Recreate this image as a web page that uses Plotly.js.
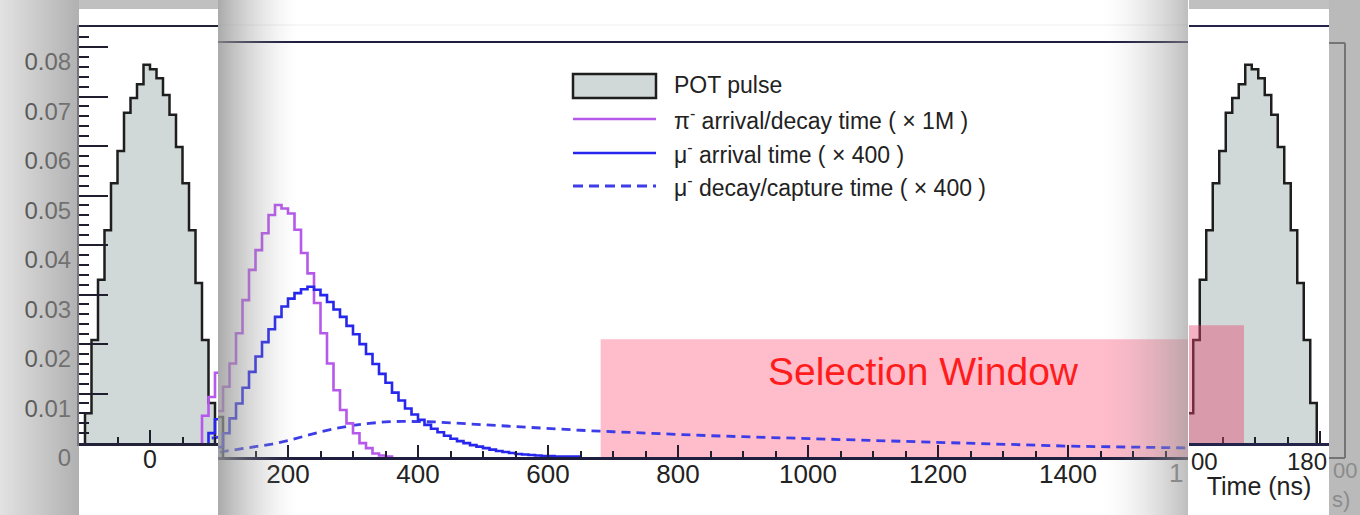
<!DOCTYPE html>
<html><head><meta charset="utf-8">
<script src="https://cdn.plot.ly/plotly-3.0.1.min.js"></script>
<style>html,body{margin:0;padding:0;background:#fff;overflow:hidden}#chart{width:1360px;height:515px}</style>
</head><body><div id="chart"></div>
<script>
// ------------------------- DATA -------------------------
// POT pulse histogram (10 ns bins, low edges in ns)
const potBinStarts = [-100,-90,-80,-70,-60,-50,-40,-30,-20,-10,0,10,20,30,40,50,60,70,80,90];
const potValues    = [0.0060,0.0208,0.0330,0.0430,0.0525,0.0590,0.0667,0.0697,0.0725,0.0764,
                      0.0755,0.0737,0.0703,0.0663,0.0598,0.0525,0.0430,0.0323,0.0208,0.0081];
const pulsePeriod  = 1695;   // ns, next POT pulse
const binWidth     = 10;     // ns

// pi- arrival/decay time (x 1M)
const piBinStarts = [80,90,100,110,120,130,140,150,160,170,180,190,200,210,220,230,240,250,260,270,280,290,300,310,320,330,340,350];
const piValues    = [0.0055,0.0093,0.0142,0.0189,0.0250,0.0317,0.0378,0.0418,0.0452,0.0489,0.0509,0.0502,0.0492,0.0459,
                     0.0412,0.0371,0.0311,0.0250,0.0189,0.0135,0.0095,0.0068,0.0048,0.0028,0.0018,0.0007,0.0003,0.0001];

// mu- arrival time (x 400)
const muArrBinStarts = [90,100,110,120,130,140,150,160,170,180,190,200,210,220,230,240,250,260,270,280,290,300,310,320,330,340,350,360,370,380,
                        390,400,410,420,430,440,450,460,470,480,490,500,510,520,530,540,550,560,570,580,590,600,610,620,630,640];
const muArrValues    = [0.0020,0.0048,0.0078,0.0108,0.0140,0.0172,0.0203,0.0232,0.0258,0.0283,0.0304,0.0320,0.0331,0.0339,0.0344,
                        0.0338,0.0327,0.0313,0.0298,0.0283,0.0265,0.0248,0.0228,0.0208,0.0188,0.0168,0.0150,0.0130,0.0114,0.0098,
                        0.0086,0.0075,0.0065,0.0057,0.0050,0.0043,0.0037,0.0032,0.0028,0.0024,0.0021,0.0018,0.0015,0.0012,0.0010,
                        0.0008,0.0006,0.0005,0.0004,0.0003,0.0002,0.0002,0.0001,0.0001,0.0001,0.0001];

// mu- decay/capture time (x 400)
const muDecTimes  = [95,120,150,175,200,225,250,275,300,325,350,375,400,425,450,475,500,550,600,650,700,750,800,850,900,
                     950,1000,1050,1100,1150,1200,1250,1300,1350,1400,1450,1500,1550,1600];
const muDecValues = [0.0010,0.0015,0.0021,0.0026,0.0033,0.0042,0.0051,0.0058,0.0064,0.0068,0.0071,0.0072,0.0072,0.0071,0.0069,
                     0.0067,0.0065,0.0061,0.0057,0.0054,0.0051,0.0048,0.0045,0.0043,0.0041,0.0039,0.0038,0.0036,0.0034,0.0032,
                     0.0029,0.0027,0.0026,0.0024,0.0022,0.0021,0.0020,0.0019,0.0018];

// selection window
const selectionWindow = [681, 1683];
const selectionHeight = 0.0238;

// tick labels
const yTickVals   = [0,0.01,0.02,0.03,0.04,0.05,0.06,0.07,0.08];
const yTickText   = ['0','0.01','0.02','0.03','0.04','0.05','0.06','0.07','0.08'];
const midTickVals = [200,400,600,800,1000,1200,1400];

const legendNames = ['POT pulse',
  'π<sup>-</sup> arrival/decay time ( × 1M )',
  'μ<sup>-</sup> arrival time ( × 400 )',
  'μ<sup>-</sup> decay/capture time ( × 400 )'];

// ------------------------- LAYOUT HELPERS -------------------------
const W = 1360, H = 515, PX = 0.65, YPX = 4950;
const FONT = 'Liberation Sans, Arial, Helvetica, sans-serif';
const px = v => v / W, py = v => 1 - v / H;
const C = {pot:'#d0d8d8', potLine:'#1e1e1e', pi:'rgb(182,88,236)', mu:'rgb(38,38,236)', dec:'rgb(60,60,232)', ax:'#1e1e2e'};

function stepXY(starts, vals, width, offset) {
  const x = [starts[0] + offset], y = [0];
  for (let i = 0; i < starts.length; i++) { x.push(starts[i] + offset); y.push(vals[i]); }
  x.push(starts[starts.length - 1] + width + offset); y.push(0);
  return {x, y};
}
function potTrace(xa, ya, offset) {
  const s = stepXY(potBinStarts, potValues, binWidth, offset);
  return {type:'scatter', mode:'lines', name:legendNames[0], x:s.x, y:s.y, xaxis:xa, yaxis:ya,
    line:{shape:'hv', color:C.potLine, width:2.5}, fill:'tozeroy', fillcolor:C.pot, showlegend:false, hoverinfo:'skip'};
}
function piTrace(xa, ya) {
  const s = stepXY(piBinStarts, piValues, binWidth, 0);
  return {type:'scatter', mode:'lines', name:'pi', x:s.x, y:s.y, xaxis:xa, yaxis:ya,
    line:{shape:'hv', color:C.pi, width:2.6}, showlegend:false, hoverinfo:'skip'};
}
function muTrace(xa, ya) {
  const s = stepXY(muArrBinStarts, muArrValues, binWidth, 0);
  return {type:'scatter', mode:'lines', name:'mu arrival', x:s.x, y:s.y, xaxis:xa, yaxis:ya,
    line:{shape:'hv', color:C.mu, width:2.6}, showlegend:false, hoverinfo:'skip'};
}
function decTrace(xa, ya) {
  return {type:'scatter', mode:'lines', name:'mu decay', x:muDecTimes, y:muDecValues, xaxis:xa, yaxis:ya,
    line:{shape:'linear', color:C.dec, width:2.8, dash:'9px,6px'}, showlegend:false, hoverinfo:'skip'};
}

const data = [
  potTrace('x','y',0), piTrace('x','y'), muTrace('x','y'), decTrace('x','y'),
  potTrace('x2','y2',0), decTrace('x2','y2'), piTrace('x2','y2'), muTrace('x2','y2'),
  potTrace('x3','y3',pulsePeriod)
];

const minorX = {ticks:'inside', tick0:0, dtick:50, ticklen:6, tickwidth:2, tickcolor:C.ax};

const layout = {
  width:W, height:H, margin:{l:0,r:0,t:0,b:0}, paper_bgcolor:'#ffffff', plot_bgcolor:'rgba(0,0,0,0)',
  showlegend:false, font:{family:FONT, color:'#222'},
  xaxis:{domain:[px(79),px(218)], range:[(79-150)/PX,(218-150)/PX], anchor:'y', automargin:false,
    showline:true, mirror:true, linecolor:'#222238', linewidth:2.5, showgrid:false, zeroline:false,
    ticks:'inside', tickmode:'array', tickvals:[0], ticklen:13, tickwidth:2, tickcolor:C.ax,
    minor:minorX, ticklabelstandoff:-8, tickfont:{family:FONT,size:25,color:'#222'}, fixedrange:true},
  yaxis:{domain:[py(443),py(27)], range:[0,416/YPX], anchor:'x', automargin:false,
    showline:true, linecolor:C.ax, linewidth:2, showgrid:false, zeroline:false,
    ticks:'inside', tickmode:'array', tickvals:yTickVals, ticktext:yTickText, ticklen:29, tickwidth:2, tickcolor:C.ax,
    minor:{ticks:'inside', tick0:0, dtick:0.002, ticklen:10, tickwidth:2, tickcolor:C.ax},
    ticklabelshift:15, ticklabelstandoff:1, tickfont:{family:FONT, size:24, color:'#2a2a2a'}, fixedrange:true},
  xaxis2:{domain:[px(218),px(1188)], range:[(218-158)/PX,(1188-158)/PX], anchor:'y2', automargin:false,
    showline:true, mirror:true, linecolor:'#1e1e3e', linewidth:2.5, showgrid:false, zeroline:false,
    ticks:'inside', tickmode:'array', tickvals:midTickVals, ticklen:12, tickwidth:2, tickcolor:C.ax,
    minor:minorX, ticklabelstandoff:-8, tickfont:{family:FONT,size:26,color:'#222'}, fixedrange:true},
  yaxis2:{domain:[py(457),py(43)], range:[0,414/YPX], anchor:'x2', visible:false, fixedrange:true},
  xaxis3:{domain:[px(1189),px(1329)], range:[1600-(1190-1189)/PX, 1600+(1329-1190)/PX], anchor:'y3', automargin:false,
    showline:true, mirror:true, linecolor:'#24244a', linewidth:2.5, showgrid:false, zeroline:false,
    ticks:'inside', tickmode:'array', tickvals:[1600,1800], ticklen:12, tickwidth:2, tickcolor:C.ax,
    minor:minorX, showticklabels:false, fixedrange:true,
    title:{text:'Time (ns)', font:{family:FONT,size:25,color:'#222'}, standoff:33}},
  yaxis3:{domain:[py(443),py(27)], range:[0,416/YPX], anchor:'x3', visible:false, fixedrange:true},
  shapes:[], annotations:[]
};

const S = layout.shapes, A = layout.annotations;
// faint line above the main frame
S.push({type:'line', xref:'paper', yref:'paper', x0:px(218), x1:px(1188), y0:py(25), y1:py(25), line:{color:'#eeeeee', width:1}, layer:'below'});
// continuation of main frame visible at far right
S.push({type:'line', xref:'paper', yref:'paper', x0:px(1345), x1:px(1345), y0:py(43), y1:py(458), line:{color:'#333', width:2}, layer:'below'});
S.push({type:'line', xref:'paper', yref:'paper', x0:px(1329), x1:px(1345), y0:py(43), y1:py(43), line:{color:'#333', width:2}, layer:'below'});
S.push({type:'line', xref:'paper', yref:'paper', x0:px(1329), x1:px(1345), y0:py(458), y1:py(458), line:{color:'#333', width:2}, layer:'below'});
// selection window
S.push({type:'rect', xref:'x2', yref:'y2', x0:selectionWindow[0], x1:selectionWindow[1], y0:0, y1:selectionHeight,
  fillcolor:'#ffbccb', line:{width:0}, layer:'below'});
S.push({type:'rect', xref:'x3', yref:'y3', x0:selectionWindow[0], x1:selectionWindow[1], y0:0, y1:selectionHeight,
  fillcolor:'rgb(228,70,110)', opacity:0.42, line:{width:0}, layer:'above'});

// shadows (drawn above)
function shade(x0,x1,y0,y1,a){ S.push({type:'rect', xref:'paper', yref:'paper', x0:px(x0), x1:px(x1), y0:py(y1), y1:py(y0),
  fillcolor:'rgba(150,150,150,'+a.toFixed(3)+')', line:{width:0}, layer:'above'}); }
for (let x = 0; x < 79; x += 1) shade(x, x+1, 0, H, 0.28 + 0.47*(x/79));
shade(79, 218, 0, 9, 0.6);
for (let x = 218; x < 300; x += 1) { const t=(x-218)/82; shade(x, x+1, 0, H, 0.8*Math.pow(1-t,1.6)); }
for (let x = 1100; x < 1188; x += 1) { const t=(x-1100)/88; shade(x, x+1, 0, H, 0.62*Math.pow(t,1.6)); }
shade(1189, 1329, 0, 9, 0.6);
shade(1329, 1360, 0, H, 0.66);

// legend (drawn by hand)
S.push({type:'rect', xref:'paper', yref:'paper', x0:px(573), x1:px(656), y0:py(98), y1:py(74), fillcolor:C.pot, line:{color:C.potLine, width:2.5}, layer:'above'});
S.push({type:'line', xref:'paper', yref:'paper', x0:px(573), x1:px(656), y0:py(119), y1:py(119), line:{color:C.pi, width:2.6}, layer:'above'});
S.push({type:'line', xref:'paper', yref:'paper', x0:px(573), x1:px(656), y0:py(153), y1:py(153), line:{color:C.mu, width:2.6}, layer:'above'});
S.push({type:'line', xref:'paper', yref:'paper', x0:px(573), x1:px(656), y0:py(186), y1:py(186), line:{color:C.dec, width:2.8, dash:'10px,6px'}, layer:'above'});
[85,119,153,186].forEach((yy,i) => A.push({xref:'paper', yref:'paper', x:px(672), y:py(yy), xanchor:'left', yanchor:'middle',
  text:legendNames[i], showarrow:false, font:{family:FONT, size:23, color:'#222'}}));

// selection window label
A.push({xref:'x2', yref:'y2', x:1178, y:0.0172, text:'Selection Window', showarrow:false, xanchor:'center', yanchor:'middle',
  font:{family:FONT, size:39, color:'#ff1c1c'}});

// truncated tick label fragments at the panel cuts
A.push({xref:'paper', yref:'paper', x:px(1176), y:py(473), text:'1', showarrow:false, xanchor:'center', yanchor:'middle', font:{family:FONT,size:26,color:'#8a8a8a'}});
A.push({xref:'paper', yref:'paper', x:px(1189), y:py(461), text:'00', showarrow:false, xanchor:'left', yanchor:'middle', font:{family:FONT,size:24,color:'#222'}});
A.push({xref:'paper', yref:'paper', x:px(1329), y:py(461), text:'180', showarrow:false, xanchor:'right', yanchor:'middle', font:{family:FONT,size:24,color:'#222'}});
A.push({xref:'paper', yref:'paper', x:px(1359), y:py(470), text:'00', showarrow:false, xanchor:'right', yanchor:'middle', font:{family:FONT,size:22,color:'#8c8c8c'}});
A.push({xref:'paper', yref:'paper', x:px(1330), y:py(499), text:'s)', showarrow:false, xanchor:'left', yanchor:'middle', font:{family:FONT,size:22,color:'#8c8c8c'}});

Plotly.newPlot('chart', data, layout, {displayModeBar:false, staticPlot:true});
</script>
</body></html>
